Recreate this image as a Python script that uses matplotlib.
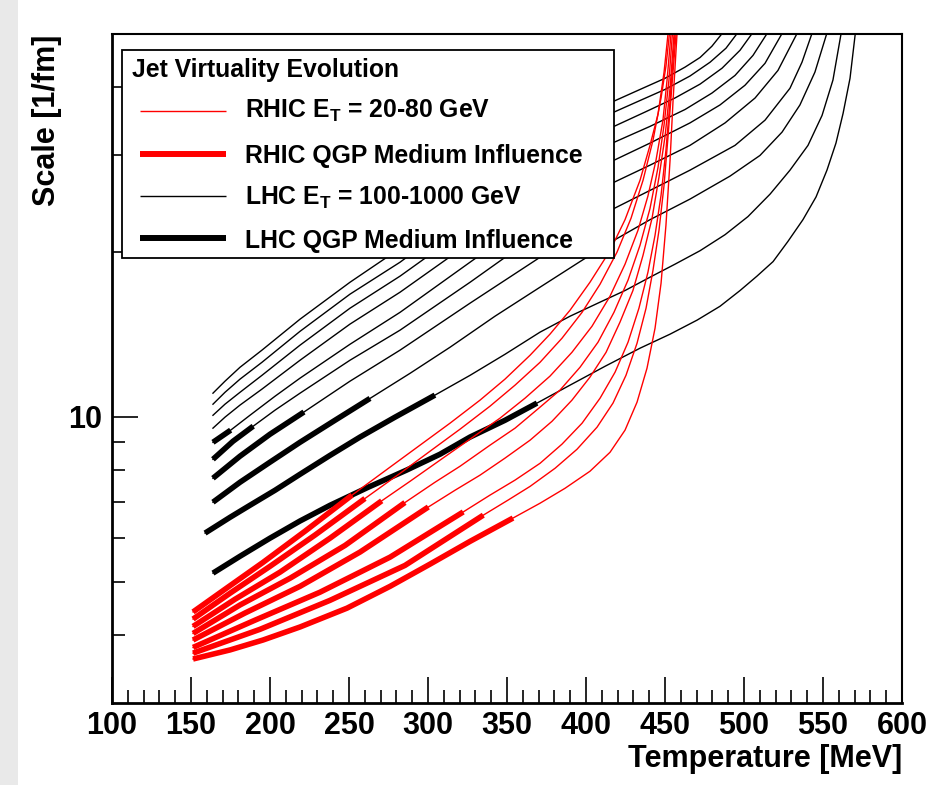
import matplotlib
matplotlib.use("Agg")
import matplotlib.pyplot as plt
from matplotlib import font_manager
from matplotlib.patches import Rectangle
from matplotlib.lines import Line2D
from matplotlib.ticker import FixedLocator, FixedFormatter, MultipleLocator, NullFormatter

# LHC jets (E_T = 100 ... 1000 GeV): temperature [MeV] vs scale [1/fm]
lhc100_T = [163.9, 181.0, 200.0, 219.0, 238.0, 262.0, 286.5, 307.6, 326.6, 348.7, 369.0, 389.9, 412.0,
            434.2, 453.2, 470.3, 484.8, 497.5, 508.2, 518.4, 527.8, 537.3, 545.6, 552.5, 558.2, 562.7,
            567.1, 570.4]
lhc100_S = [5.18, 5.56, 6.00, 6.45, 6.89, 7.43, 7.99, 8.54, 9.18, 9.85, 10.59, 11.42, 12.36,
            13.34, 14.15, 15.01, 15.91, 17.0, 18.06, 19.2, 20.9, 22.9, 25.2, 28.2, 31.6, 35.8,
            41.5, 50]
lhc200_T = [158.9, 174.7, 187.3, 203.2, 219.0, 238.0, 257.0, 279.1, 304.4, 326.6, 348.7, 370.9, 389.9,
            408.9, 424.7, 440.5, 456.3, 472.2, 488.0, 502.5, 516.5, 529.1, 540.5, 549.4, 556.3, 561.4]
lhc200_S = [6.13, 6.55, 6.89, 7.34, 7.85, 8.50, 9.18, 9.98, 10.95, 11.9, 13.0, 14.27, 15.26,
            16.19, 17.0, 17.98, 18.99, 20.1, 21.5, 23.2, 25.5, 28.2, 31.3, 35.5, 41.2, 50]
lhc300_T = [163.9, 181.0, 200.0, 219.0, 241.1, 263.3, 288.6, 313.9, 342.4, 370.9, 396.2, 417.7, 440.5,
            465.8, 491.1, 510.1, 524.1, 535.4, 544.9, 552.3]
lhc300_S = [6.98, 7.59, 8.26, 8.98, 9.85, 10.80, 12.0, 13.39, 15.26, 17.24, 19.2, 21.0, 22.9,
            24.97, 27.5, 30.0, 33.1, 37.1, 42.6, 50]
lhc400_T = [163.9, 181.0, 200.0, 221.5, 250.6, 282.3, 326.6, 370.9, 396.2, 417.7, 440.5, 465.8, 494.3,
            513.3, 529.1, 536.7, 542.9]
lhc400_S = [7.72, 8.47, 9.29, 10.20, 11.61, 13.23, 16.12, 19.55, 21.8, 24.0, 25.9, 28.2, 31.3,
            34.8, 39.8, 44.4, 50]
lhc500_T = [163.9, 176.6, 189.4, 203.2, 219.0, 250.6, 282.3, 326.6, 370.9, 396.2, 417.7, 440.5, 465.8,
            488.0, 507.0, 521.5, 533.4]
lhc500_S = [8.36, 9.02, 9.61, 10.28, 11.04, 12.68, 14.39, 17.6, 21.7, 24.3, 26.8, 28.8, 31.3,
            34.4, 38.2, 42.9, 50]
lhc600_T = [163.9, 175.1, 187.3, 203.2, 219.0, 250.6, 282.3, 326.6, 370.9, 396.2, 417.7, 440.5, 465.8,
            484.8, 500.6, 513.3, 523.9]
lhc600_S = [8.98, 9.45, 10.06, 10.90, 11.76, 13.56, 15.51, 19.15, 23.6, 26.6, 29.4, 31.6, 34.4,
            37.1, 40.3, 44.2, 50]
lhc700_T = [163.9, 171.5, 181.0, 194.9, 219.0, 250.6, 282.3, 326.6, 370.9, 396.2, 417.7, 440.5, 462.7,
            479.7, 494.3, 505.7, 514.4]
lhc700_S = [9.53, 9.98, 10.50, 11.23, 12.68, 14.76, 16.88, 20.8, 25.7, 28.7, 31.7, 33.9, 36.4,
            39.0, 42.0, 45.7, 50]
lhc800_T = [163.9, 171.5, 181.0, 194.9, 219.0, 250.6, 282.3, 326.6, 370.9, 396.2, 417.7, 437.3, 456.3,
            472.2, 486.1, 497.5, 504.9]
lhc800_S = [10.06, 10.54, 11.08, 11.9, 13.51, 15.78, 18.06, 22.3, 27.5, 30.8, 33.9, 36.0, 38.2,
            40.5, 43.3, 46.7, 50]
lhc900_T = [163.9, 171.5, 181.0, 194.9, 219.0, 250.6, 282.3, 326.6, 370.9, 396.2, 417.7, 434.2, 450.0,
            465.8, 478.5, 488.6, 495.4]
lhc900_S = [10.54, 11.08, 11.71, 12.57, 14.32, 16.74, 19.15, 23.8, 29.4, 32.8, 36.0, 37.8, 39.6,
            41.9, 44.4, 47.1, 50]
lhc1000_T = [163.9, 171.5, 181.0, 194.9, 219.0, 250.6, 282.3, 326.6, 370.9, 396.2, 417.7, 434.2, 450.0,
             462.7, 472.2, 479.7, 485.9]
lhc1000_S = [11.04, 11.61, 12.31, 13.23, 15.07, 17.6, 20.3, 25.3, 31.2, 34.5, 37.7, 39.6, 41.5,
             43.5, 45.3, 47.5, 50]
# leading points of each curve that belong to the QGP medium-influence part
lhc_medium_n = [11, 9, 6, 4, 3, 2, 0, 0, 0, 0]

# RHIC jets (E_T = 20 ... 80 GeV), lowest curve first
rhic1_T = [151.3, 174.7, 195.6, 219.0, 248.7, 276.0, 301.3, 326.6, 353.8, 370.9, 386.7, 402.5, 415.2,
           424.7, 432.3, 438.6, 443.7, 447.5, 450.6, 453.2, 455.1, 457.6]
rhic1_S = [3.61, 3.75, 3.91, 4.13, 4.47, 4.90, 5.38, 5.92, 6.53, 6.95, 7.40, 7.95, 8.61,
           9.45, 10.63, 12.26, 14.51, 17.53, 22.37, 29.4, 37.8, 50]
rhic2_T = [151.3, 193.7, 238.0, 285.4, 335.0, 350.6, 364.6, 380.4, 394.3, 407.0, 417.1, 425.3, 432.3,
           438.0, 442.4, 446.2, 449.4, 451.9, 454.4, 457.0]
rhic2_S = [3.70, 4.09, 4.62, 5.35, 6.61, 7.04, 7.46, 8.05, 8.72, 9.57, 10.59, 11.9, 13.62,
           15.78, 18.51, 21.9, 26.47, 32.45, 40.3, 50]
rhic3_T = [151.3, 190.5, 231.6, 276.0, 322.3, 339.2, 355.1, 370.9, 384.8, 397.5, 408.9, 418.4, 426.6,
           433.5, 439.2, 443.7, 447.5, 450.6, 453.2, 456.3]
rhic3_S = [3.79, 4.25, 4.78, 5.54, 6.70, 7.19, 7.66, 8.22, 8.91, 9.73, 10.81, 12.06, 13.68,
           15.78, 18.36, 21.45, 25.38, 30.67, 37.8, 50]
rhic4_T = [151.3, 184.2, 219.0, 257.0, 300.2, 317.1, 332.9, 348.7, 364.6, 378.5, 391.1, 402.5, 412.7,
           421.5, 429.7, 436.1, 441.8, 446.2, 450.0, 453.2, 455.7]
rhic4_S = [3.91, 4.38, 4.90, 5.66, 6.84, 7.34, 7.82, 8.40, 9.06, 9.81, 10.72, 11.81, 13.11,
           14.88, 17.0, 19.72, 23.04, 27.39, 32.45, 39.8, 50]
rhic5_T = [151.3, 181.0, 212.7, 247.5, 285.4, 304.4, 320.3, 339.2, 355.1, 370.9, 383.5, 396.2, 407.6,
           417.7, 426.6, 434.2, 440.5, 445.6, 449.4, 452.5, 454.7]
rhic5_S = [4.02, 4.53, 5.07, 5.82, 6.97, 7.59, 8.12, 8.87, 9.53, 10.41, 11.18, 12.31, 13.68,
           15.51, 17.76, 20.57, 24.0, 28.55, 34.1, 41.2, 50]
rhic6_T = [151.3, 177.8, 206.3, 238.0, 270.7, 288.6, 307.6, 326.6, 345.6, 361.4, 377.2, 391.1, 403.8,
           415.2, 424.7, 432.9, 439.2, 444.3, 448.7, 451.3, 453.8]
rhic6_S = [4.14, 4.64, 5.20, 6.00, 7.02, 7.62, 8.33, 9.10, 9.94, 10.81, 11.86, 13.11, 14.63,
           16.6, 18.99, 21.9, 25.3, 29.4, 34.8, 41.2, 50]
rhic7_T = [151.3, 174.7, 200.0, 228.5, 260.1, 282.3, 301.3, 320.3, 339.2, 355.1, 370.9, 384.8, 397.5,
           408.9, 419.6, 428.5, 436.1, 442.4, 447.5, 450.6, 452.8]
rhic7_S = [4.27, 4.76, 5.33, 6.08, 7.09, 7.88, 8.65, 9.49, 10.45, 11.42, 12.57, 13.91, 15.51,
           17.46, 19.97, 23.04, 27.03, 31.98, 38.2, 43.66, 50]
rhic8_T = [151.3, 171.5, 195.6, 222.2, 251.9, 276.0, 294.9, 313.9, 332.9, 348.7, 364.6, 377.2, 389.9,
           402.5, 415.2, 424.7, 434.2, 440.5, 445.6, 449.4, 451.9]
rhic8_S = [4.40, 4.84, 5.42, 6.18, 7.19, 8.09, 8.87, 9.73, 10.72, 11.71, 12.95, 14.15, 15.65,
           17.6, 20.1, 22.9, 27.03, 31.3, 35.7, 42.58, 50]
rhic_medium_n = [9, 5, 5, 5, 5, 5, 5, 5]

x_ticks = [100, 150, 200, 250, 300, 350, 400, 450, 500, 550, 600]
y_major = [10]
y_minor = [4, 5, 6, 7, 8, 9, 20, 30, 40]

legend_labels = ["RHIC E$_{\\mathbf{T}}$ = 20-80 GeV", "RHIC QGP Medium Influence",
                 "LHC E$_{\\mathbf{T}}$ = 100-1000 GeV", "LHC QGP Medium Influence"]

installed = {f.name for f in font_manager.fontManager.ttflist}
NARROW = "Liberation Sans Narrow" if "Liberation Sans Narrow" in installed else "Liberation Sans"
plt.rcParams["font.family"] = ["Liberation Sans", "DejaVu Sans"]
plt.rcParams["mathtext.fontset"] = "custom"
plt.rcParams["mathtext.rm"] = "Liberation Sans:bold"
plt.rcParams["mathtext.bf"] = "Liberation Sans:bold"
plt.rcParams["mathtext.it"] = "Liberation Sans:bold"

fig = plt.figure(figsize=(9.3, 7.85), dpi=100)
fig.patches.append(Rectangle((0, 0), 18 / 930, 1, transform=fig.transFigure,
                             facecolor="#e9e9e9", edgecolor="none"))
ax = fig.add_axes([112 / 930, 1 - 703 / 785, 790 / 930, 669 / 785])

lhc = [(lhc100_T, lhc100_S), (lhc200_T, lhc200_S), (lhc300_T, lhc300_S),
       (lhc400_T, lhc400_S), (lhc500_T, lhc500_S), (lhc600_T, lhc600_S),
       (lhc700_T, lhc700_S), (lhc800_T, lhc800_S), (lhc900_T, lhc900_S),
       (lhc1000_T, lhc1000_S)]
rhic = [(rhic1_T, rhic1_S), (rhic2_T, rhic2_S), (rhic3_T, rhic3_S), (rhic4_T, rhic4_S),
        (rhic5_T, rhic5_S), (rhic6_T, rhic6_S), (rhic7_T, rhic7_S), (rhic8_T, rhic8_S)]

THIN, THICK = 1.0, 4.0
for (T, S), n in zip(lhc, lhc_medium_n):
    ax.plot(T, S, color="black", lw=THIN)
    if n:
        ax.plot(T[:n], S[:n], color="black", lw=THICK, solid_capstyle="butt")
for (T, S), n in zip(rhic, rhic_medium_n):
    ax.plot(T, S, color="red", lw=THIN)
    ax.plot(T[:n], S[:n], color="red", lw=THICK, solid_capstyle="butt")

ax.set_yscale("log")
ax.set_xlim(100, 600)
ax.set_ylim(3, 50)

ax.xaxis.set_major_locator(FixedLocator(x_ticks))
ax.xaxis.set_minor_locator(MultipleLocator(10))
ax.yaxis.set_major_locator(FixedLocator(y_major))
ax.yaxis.set_major_formatter(FixedFormatter([str(v) for v in y_major]))
ax.yaxis.set_minor_locator(FixedLocator(y_minor))
ax.yaxis.set_minor_formatter(NullFormatter())
ax.tick_params(which="both", direction="in", top=False, right=False, width=1.2)
ax.tick_params(which="major", length=19)
ax.tick_params(which="minor", length=9.5)
ax.tick_params(axis="x", which="major", pad=6)
ax.tick_params(axis="y", which="major", pad=7)
for lab in ax.get_xticklabels() + ax.get_yticklabels():
    lab.set_fontfamily(NARROW)
    lab.set_fontweight("bold")
    lab.set_fontsize(22)
for side in ["left", "bottom"]:
    ax.spines[side].set_linewidth(2.0)
for side in ["top", "right"]:
    ax.spines[side].set_linewidth(1.5)

fig.text(902 / 930, 1 - 767 / 785, "Temperature [MeV]", ha="right", va="baseline",
         fontsize=22, fontweight="bold", family=NARROW)
fig.text(47 / 930, 1 - 35 / 785, "Scale [1/fm]", ha="center", va="top", rotation=90,
         fontsize=22, fontweight="bold", family=NARROW)

# legend box, drawn by hand to sit where the original one does
bx0, bx1 = (122 - 112) / 790, (614 - 112) / 790
by0, by1 = (703 - 258) / 669, (703 - 50) / 669
ax.add_patch(Rectangle((bx0, by0), bx1 - bx0, by1 - by0, transform=ax.transAxes,
                       facecolor="white", edgecolor="black", lw=1.3, zorder=10))
ax.text((132 - 112) / 790, (703 - 77) / 669, "Jet Virtuality Evolution", transform=ax.transAxes,
        fontsize=17.8, fontweight="bold", va="baseline", zorder=11)
styles = [("red", THIN), ("red", THICK + 0.3), ("black", THIN), ("black", THICK + 0.3)]
line_y = [111, 154, 196, 238]
base_y = [118, 163, 205, 248]
for (c, w), ly, tb, lab in zip(styles, line_y, base_y, legend_labels):
    yy = (703 - ly) / 669
    ax.add_line(Line2D([(140 - 112) / 790, (226 - 112) / 790], [yy, yy], color=c, lw=w,
                       transform=ax.transAxes, zorder=11, solid_capstyle="butt"))
    ax.text((245 - 112) / 790, (703 - tb) / 669, lab, transform=ax.transAxes,
            fontsize=17.8, fontweight="bold", va="baseline", zorder=11)

fig.savefig("out.png", dpi=100)
